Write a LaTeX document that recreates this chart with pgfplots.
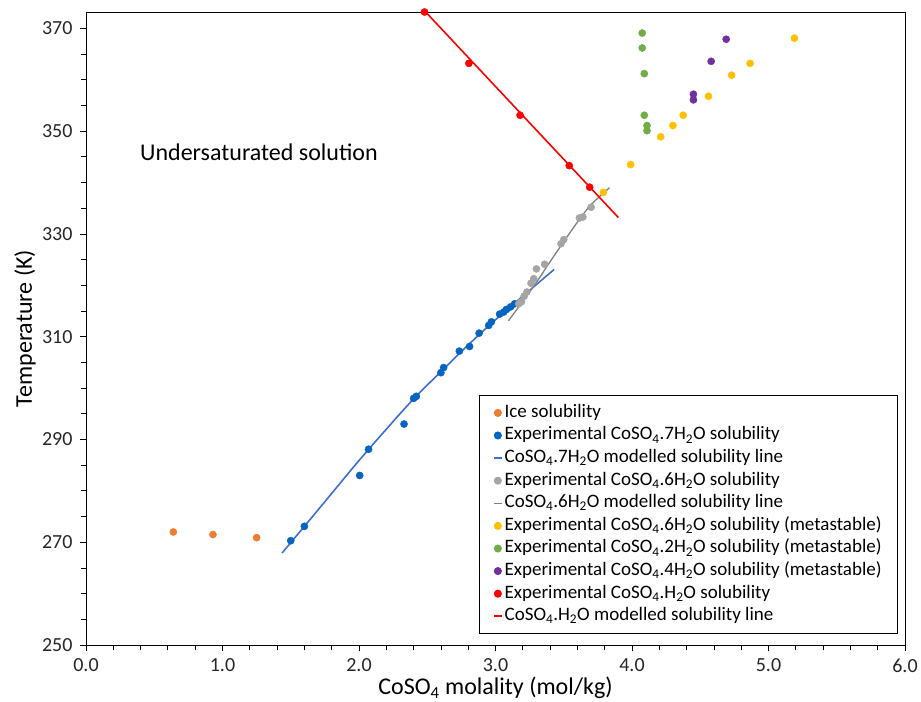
\documentclass[border=0pt]{standalone}
\usepackage{fontspec}
\setmainfont{Carlito}
\usepackage{pgfplots}
\pgfplotsset{compat=1.18}
\definecolor{cice}{HTML}{ED7D31}
\definecolor{cblue}{HTML}{0563C1}
\definecolor{cblueline}{HTML}{3A6FD0}
\definecolor{cgray}{HTML}{A5A5A5}
\definecolor{cgrayline}{HTML}{7F7F7F}
\definecolor{cyellow}{HTML}{FFC000}
\definecolor{cgreen}{HTML}{70AD47}
\definecolor{cpurple}{HTML}{7030A0}
\definecolor{cred}{HTML}{FF0000}
\begin{document}
\begin{tikzpicture}
\useasboundingbox (-86bp,-57bp) rectangle (835bp,645bp);
\begin{axis}[
  at={(0,0)}, anchor=south west,
  width=819bp, height=633bp, scale only axis,
  xmin=0, xmax=6, ymin=250, ymax=373.2,
  xtick={0,1,2,3,4,5,6},
  minor x tick num=4,
  ytick={250,270,290,310,330,350,370},
  minor y tick num=3,
  x tick label style={/pgf/number format/fixed, /pgf/number format/fixed zerofill, /pgf/number format/precision=1},
  /pgf/number format/assume math mode=true,
  tick align=outside,
  xtick pos=bottom, ytick pos=left,
  major tick length=6bp, minor tick length=5bp,
  every tick/.style={black, line width=0.8bp},
  axis line style={black, line width=0.8bp},
  tick label style={font=\fontsize{20bp}{24bp}\selectfont, text=black!85},
  x tick label style={yshift=-4bp},
  y tick label style={xshift=-4bp},
  xlabel={CoSO\textsubscript{4} molality (mol/kg)},
  ylabel={Temperature (K)},
  label style={font=\fontsize{24bp}{28bp}\selectfont},
  xlabel style={at={(axis description cs:0.5,0)}, anchor=center, yshift=-43bp},
  ylabel style={at={(axis description cs:0,0.5)}, anchor=center, xshift=0bp, yshift=61bp},
  legend cell align=left,
  legend style={at={(axis description cs:0.9915,0.0174)}, anchor=south east,
    draw=black, line width=0.8bp, font=\fontsize{19bp}{22bp}\selectfont,
    inner xsep=14bp, inner ysep=6bp, row sep=0bp,
    nodes={inner ysep=2.3bp, inner xsep=2bp, text height=13.5bp, text depth=4.5bp}},
  legend image code/.code={\draw[mark repeat=2,mark phase=2,#1] plot coordinates {(0bp,0bp)(4bp,0bp)(8bp,0bp)};},
  every axis plot/.append style={mark size=3.6bp},
]
% Ice
\addplot[only marks, mark=*, color=cice] coordinates {
(0.64,272.0)(0.93,271.5)(1.25,270.9)};
\addlegendentry{Ice solubility}
% 7H2O experimental
\addplot[only marks, mark=*, color=cblue] coordinates {
(1.50,270.3)(1.60,273.1)(2.005,283.0)(2.07,288.1)(2.33,293.0)(2.40,298.0)(2.42,298.4)
(2.60,303.0)(2.62,304.0)(2.735,307.2)(2.81,308.1)(2.88,310.7)(2.95,312.2)(2.97,312.9)
(3.03,314.4)(3.06,314.8)(3.08,315.3)(3.11,315.8)(3.14,316.4)};
\addlegendentry{Experimental CoSO\textsubscript{4}.7H\textsubscript{2}O solubility}
% 7H2O line
\addplot[no marks, color=cblueline, line width=1.6bp, smooth] coordinates {
(1.436,267.9)(1.6,273.1)(1.8,279.5)(2.0,285.9)(2.2,292.0)(2.4,297.9)(2.6,303.2)
(2.8,308.4)(3.0,313.3)(3.2,317.9)(3.43,323.1)};
\addlegendentry{CoSO\textsubscript{4}.7H\textsubscript{2}O modelled solubility line}
% 6H2O experimental
\addplot[only marks, mark=*, color=cgray] coordinates {
(3.17,316.4)(3.19,316.8)(3.21,317.9)(3.23,318.7)(3.26,320.4)(3.28,321.3)(3.30,323.2)
(3.36,324.1)(3.48,328.1)(3.50,328.9)(3.615,333.1)(3.64,333.3)(3.70,335.2)};
\addlegendentry{Experimental CoSO\textsubscript{4}.6H\textsubscript{2}O solubility}
% 6H2O line
\addplot[no marks, color=cgrayline, line width=1.3bp, smooth] coordinates {
(3.095,313.1)(3.2,316.9)(3.3,320.6)(3.4,324.6)(3.5,328.5)(3.6,332.3)(3.7,335.7)(3.835,339.0)};
\addlegendentry{CoSO\textsubscript{4}.6H\textsubscript{2}O modelled solubility line}
% 6H2O metastable
\addplot[only marks, mark=*, color=cyellow] coordinates {
(3.79,338.1)(3.99,343.5)(4.21,348.9)(4.30,351.1)(4.375,353.1)(4.56,356.8)(4.73,360.9)
(4.865,363.2)(5.19,368.1)};
\addlegendentry{Experimental CoSO\textsubscript{4}.6H\textsubscript{2}O solubility (metastable)}
% 2H2O metastable
\addplot[only marks, mark=*, color=cgreen] coordinates {
(4.075,369.1)(4.075,366.2)(4.09,361.2)(4.09,353.1)(4.11,351.1)(4.11,350.1)};
\addlegendentry{Experimental CoSO\textsubscript{4}.2H\textsubscript{2}O solubility (metastable)}
% 4H2O metastable
\addplot[only marks, mark=*, color=cpurple] coordinates {
(4.45,356.1)(4.45,357.2)(4.58,363.6)(4.69,367.9)};
\addlegendentry{Experimental CoSO\textsubscript{4}.4H\textsubscript{2}O solubility (metastable)}
% H2O experimental
\addplot[only marks, mark=*, color=cred] coordinates {
(2.48,373.2)(2.805,363.2)(3.18,353.1)(3.54,343.3)(3.69,339.1)};
\addlegendentry{Experimental CoSO\textsubscript{4}.H\textsubscript{2}O solubility}
% H2O line
\addplot[no marks, color=cred, line width=1.6bp] coordinates {
(2.46,374.0)(3.90,333.2)};
\addlegendentry{CoSO\textsubscript{4}.H\textsubscript{2}O modelled solubility line}
\node[font=\fontsize{24bp}{28bp}\selectfont, anchor=center] at (axis cs:1.267,345.9) {Undersaturated solution};
\end{axis}
\end{tikzpicture}
\end{document}
